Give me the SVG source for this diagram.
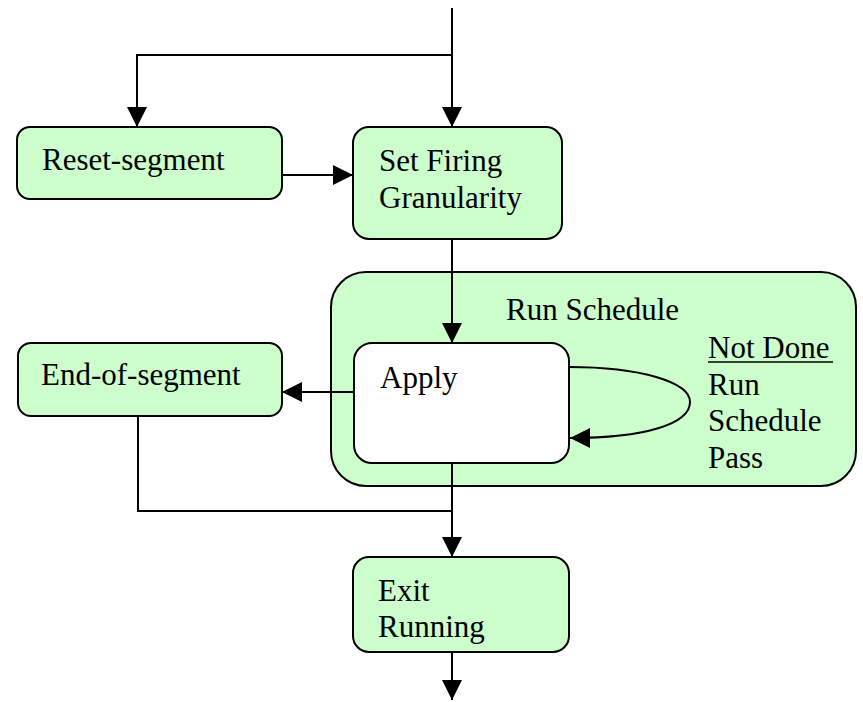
<svg xmlns="http://www.w3.org/2000/svg" width="863" height="702" viewBox="0 0 863 702">
  <style>
    .box { fill: #ccffcc; stroke: #000; stroke-width: 2; }
    .inner { fill: #ffffff; stroke: #000; stroke-width: 2; }
    .lbl { font-family: "Liberation Serif", "Times New Roman", serif; font-size: 31px; fill: #000; }
    .wire { fill: none; stroke: #000; stroke-width: 2; }
  </style>
  <defs>
    <marker id="arrow" markerUnits="userSpaceOnUse" markerWidth="20" markerHeight="20" refX="20" refY="10" orient="auto">
      <path d="M0,0 L20,10 L0,20 z" fill="#000"/>
    </marker>
  </defs>

  <rect width="863" height="702" fill="#fff"/>

  <!-- composite state: Run Schedule -->
  <g id="run-schedule">
    <rect class="box" x="331" y="272" width="525" height="214" rx="35" ry="35"/>
    <text class="lbl" x="506" y="320">Run Schedule</text>
    <text class="lbl" x="708" y="358">Not Done</text>
    <line x1="708" y1="362" x2="833" y2="362" stroke="#000" stroke-width="1.5"/>
    <text class="lbl" x="708" y="395">Run</text>
    <text class="lbl" x="708" y="431">Schedule</text>
    <text class="lbl" x="708" y="468">Pass</text>
  </g>

  <g id="reset-segment">
    <rect class="box" x="17" y="127" width="265" height="72" rx="13" ry="13"/>
    <text class="lbl" x="42" y="170">Reset-segment</text>
  </g>

  <g id="set-firing-granularity">
    <rect class="box" x="353" y="127" width="209" height="112" rx="16" ry="16"/>
    <text class="lbl" x="379" y="171">Set Firing</text>
    <text class="lbl" x="379" y="208">Granularity</text>
  </g>

  <g id="apply">
    <rect class="inner" x="354" y="343" width="215" height="120" rx="18" ry="18"/>
    <text class="lbl" x="380" y="388">Apply</text>
  </g>

  <g id="end-of-segment">
    <rect class="box" x="18" y="343" width="264" height="73" rx="13" ry="13"/>
    <text class="lbl" x="41" y="385">End-of-segment</text>
  </g>

  <g id="exit-running">
    <rect class="box" x="353" y="557" width="216" height="95" rx="16" ry="16"/>
    <text class="lbl" x="378" y="601">Exit</text>
    <text class="lbl" x="378" y="637">Running</text>
  </g>

  <g id="connectors">
    <path class="wire" d="M452 8 V127" marker-end="url(#arrow)"/>
    <path class="wire" d="M452 55 H137 V127" marker-end="url(#arrow)"/>
    <path class="wire" d="M282 175 H353" marker-end="url(#arrow)"/>
    <path class="wire" d="M452 239 V343" marker-end="url(#arrow)"/>
    <path class="wire" d="M354 392 H282" marker-end="url(#arrow)"/>
    <path class="wire" d="M569 367 C640 367 690 382 690 402 C690 424 645 438 570 438" marker-end="url(#arrow)"/>
    <path class="wire" d="M138 416 V511 H452"/>
    <path class="wire" d="M452 463 V557" marker-end="url(#arrow)"/>
    <path class="wire" d="M452 652 V700" marker-end="url(#arrow)"/>
  </g>
</svg>
